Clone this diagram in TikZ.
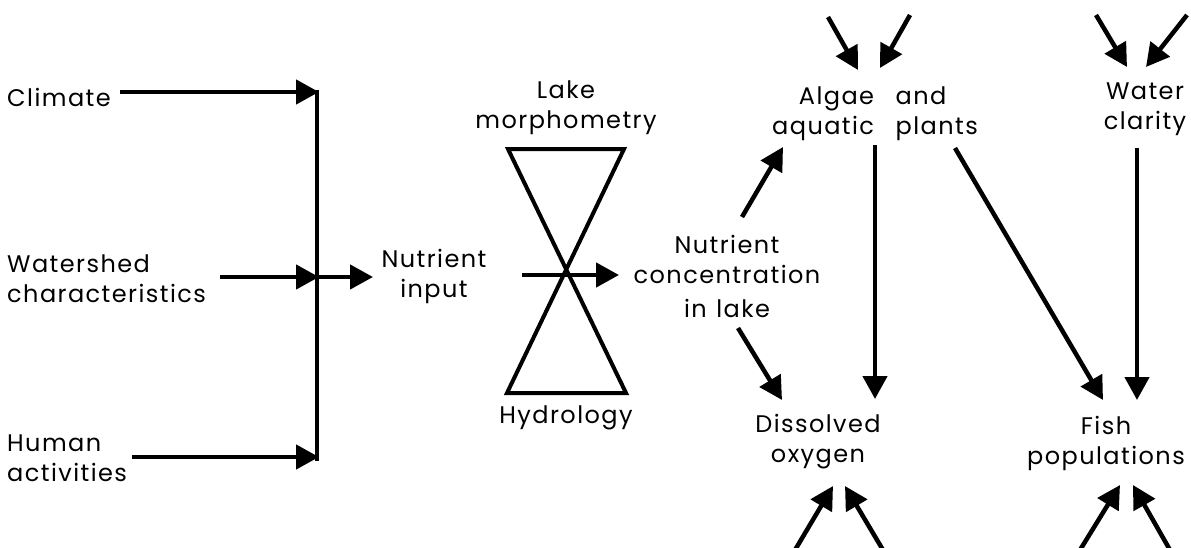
\documentclass[tikz,border=0pt]{standalone}
\usepackage{fontspec}
\setmainfont{Poppins}[LetterSpace=6]
\usetikzlibrary{arrows.meta}
\begin{document}
\begin{tikzpicture}[x=1pt,y=-1pt,
  lbl/.style={inner sep=0pt, font=\fontsize{24}{30}\selectfont},
  ln/.style={line width=4.5pt},
  arr/.style={line width=4.5pt, -{Triangle[length=23pt,width=24pt]}},
  hg/.style={line width=4pt, line join=miter}]
\useasboundingbox (0,0) rectangle (1191,547);
% text nodes
\node[lbl, anchor=west] (climate) at (7,97) {Climate};
\node[lbl, anchor=west, align=left] (watershed) at (7,279) {Watershed\\characteristics};
\node[lbl, anchor=west, align=left] (human) at (7,458) {Human\\activities};
\node[lbl, align=center] (nutin) at (434,276) {Nutrient\\input};
\node[lbl, align=center] (morph) at (566,108) {Lake\\morphometry};
\node[lbl] (hydro) at (566,418) {Hydrology};
\node[lbl, align=center] (conc) at (727,276) {Nutrient\\concentration\\[4pt]in\hspace{0.4em}lake};
\node[lbl] (algae) at (875,113) {\begin{tabular}{@{}r@{\hspace{0.9em}}l@{}}Algae & and\\ aquatic & plants\end{tabular}};
\node[lbl, align=center] (water) at (1145,109) {Water\\clarity};
\node[lbl, align=center] (oxygen) at (818,442) {Dissolved\\oxygen};
\node[lbl, align=center] (fish) at (1106,443) {Fish\\populations};
% coordinates
\coordinate (c1) at (120,92);
\coordinate (bartop) at (317,90);
\coordinate (barbot) at (317,461);
\coordinate (bar1) at (319,92);
\coordinate (bar2) at (319,277);
\coordinate (bar3) at (319,457);
\coordinate (barmid) at (317,277);
\coordinate (w1) at (220,277);
\coordinate (h1) at (132,457);
\coordinate (nin) at (373,277);
\coordinate (tl) at (508,149);
\coordinate (tr) at (624,149);
\coordinate (bl) at (507,393);
\coordinate (br) at (626,393);
\coordinate (th1) at (522,275);
\coordinate (th2) at (619,275);
\coordinate (n1) at (742,217);
\coordinate (n2) at (783,147);
\coordinate (l1) at (738,328);
\coordinate (l2) at (782,400);
\coordinate (a1) at (875,145);
\coordinate (a2) at (875,399);
\coordinate (p1) at (955,148);
\coordinate (p2) at (1103,400);
\coordinate (wc1) at (1137,148);
\coordinate (wc2) at (1137,400);
\coordinate (ta1) at (828,17);
\coordinate (ta2) at (858,70);
\coordinate (tb1) at (910,15);
\coordinate (tb2) at (880,68);
\coordinate (tc1) at (1096,15);
\coordinate (tc2) at (1127,67);
\coordinate (td1) at (1187,15);
\coordinate (td2) at (1146,67);
\coordinate (ba1) at (795,550);
\coordinate (ba2) at (833,486);
\coordinate (bb1) at (883,550);
\coordinate (bb2) at (845,486);
\coordinate (bc1) at (1080,550);
\coordinate (bc2) at (1120,485);
\coordinate (bd1) at (1170,550);
\coordinate (bd2) at (1133,485);
% left block
\draw[ln] (bartop) -- (barbot);
\draw[arr] (c1) -- (bar1);
\draw[arr] (w1) -- (bar2);
\draw[arr] (h1) -- (bar3);
\draw[arr] (barmid) -- (nin);
% hourglass
\draw[hg] (tl) -- (tr) -- (bl) -- (br) -- cycle;
\draw[arr] (th1) -- (th2);
% right part
\draw[arr] (n1) -- (n2);
\draw[arr] (l1) -- (l2);
\draw[arr] (a1) -- (a2);
\draw[arr] (p1) -- (p2);
\draw[arr] (wc1) -- (wc2);
\draw[arr] (ta1) -- (ta2);
\draw[arr] (tb1) -- (tb2);
\draw[arr] (tc1) -- (tc2);
\draw[arr] (td1) -- (td2);
\draw[arr] (ba1) -- (ba2);
\draw[arr] (bb1) -- (bb2);
\draw[arr] (bc1) -- (bc2);
\draw[arr] (bd1) -- (bd2);
\end{tikzpicture}
\end{document}
